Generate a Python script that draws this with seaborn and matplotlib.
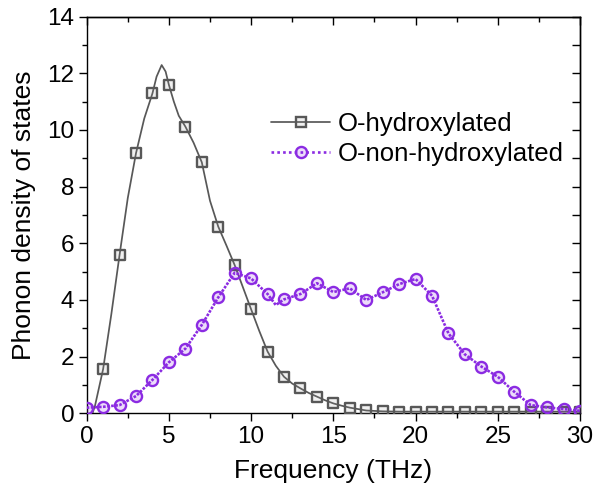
import numpy as np
import pandas as pd
import matplotlib
matplotlib.use("Agg")
import matplotlib.pyplot as plt
from matplotlib.ticker import MultipleLocator, NullFormatter
from matplotlib.lines import Line2D
import seaborn as sns

# ---------------- data ----------------
hyd_freq = list(range(1, 31))
hyd_dos = [1.56, 5.59, 9.18, 11.29, 11.59, 10.12, 8.86, 6.59, 5.23, 3.67,
           2.18, 1.29, 0.88, 0.59, 0.35, 0.20, 0.10, 0.07, 0.06, 0.06,
           0.06, 0.06, 0.06, 0.06, 0.06, 0.06, 0.06, 0.06, 0.06, 0.06]

# finer readings of the grey curve between its markers
hyd_line_freq = [0.35, 0.5, 1, 1.5, 2, 2.5, 3, 3.5, 4, 4.25, 4.56, 4.8, 5, 5.3,
                 5.6, 6, 6.5, 7, 7.5, 8, 8.5, 9, 9.5, 10, 10.5, 11, 11.5, 12,
                 12.5, 13, 13.5, 14, 14.5, 15, 15.5, 16, 17, 18, 19, 20, 21,
                 22, 23, 24, 25, 26, 27, 28, 29, 30]
hyd_line_dos = [0.0, 0.25, 1.56, 3.5, 5.59, 7.6, 9.18, 10.4, 11.29, 11.88, 12.29,
                12.06, 11.59, 11.0, 10.5, 10.12, 9.55, 8.86, 7.5, 6.59, 5.92,
                5.23, 4.45, 3.67, 2.9, 2.18, 1.68, 1.29, 1.05, 0.88, 0.72, 0.59,
                0.46, 0.35, 0.27, 0.20, 0.10, 0.07, 0.06, 0.06, 0.06, 0.06,
                0.06, 0.06, 0.06, 0.06, 0.06, 0.06, 0.06, 0.06]

non_freq = list(range(0, 31))
non_dos = [0.20, 0.23, 0.29, 0.61, 1.18, 1.80, 2.28, 3.12, 4.09, 4.96, 4.76,
           4.21, 4.02, 4.21, 4.59, 4.28, 4.41, 4.00, 4.27, 4.56, 4.74, 4.15,
           2.82, 2.08, 1.65, 1.29, 0.76, 0.29, 0.21, 0.15, 0.09]

non_line_freq = [0, 1, 2, 3, 4, 5, 6, 7, 8, 9, 10, 11, 11.5, 12, 13, 14, 15, 16,
                 17, 18, 19, 20, 21, 22, 23, 24, 25, 26, 27, 28, 29, 30]
non_line_dos = [0.20, 0.23, 0.29, 0.61, 1.18, 1.80, 2.28, 3.12, 4.09, 4.96, 4.76,
                4.21, 3.82, 4.02, 4.21, 4.59, 4.28, 4.41, 4.00, 4.27, 4.56,
                4.74, 4.15, 2.82, 2.08, 1.65, 1.29, 0.76, 0.29, 0.21, 0.15, 0.09]

series_names = ["O-hydroxylated", "O-non-hydroxylated"]
x_label = "Frequency (THz)"
y_label = "Phonon density of states"

# ---------------- style ----------------
sns.set_style("ticks")
plt.rcParams["font.family"] = ["Liberation Sans", "DejaVu Sans"]
plt.rcParams["axes.linewidth"] = 1.0
for k in ["text.color", "axes.labelcolor", "xtick.color", "ytick.color",
          "axes.edgecolor"]:
    plt.rcParams[k] = "black"

GREY = "#585858"
PURPLE = "#8b2be2"
GREY_FACE = (0.6, 0.6, 0.6, 0.14)
PURPLE_FACE = (0.55, 0.17, 0.89, 0.16)

fig = plt.figure(figsize=(6.04, 4.95), dpi=100)
ax = fig.add_axes([0.1435, 0.165, 0.8168, 0.8015])

df_hl = pd.DataFrame({"f": hyd_line_freq, "d": hyd_line_dos})
df_hm = pd.DataFrame({"f": hyd_freq, "d": hyd_dos})
df_nl = pd.DataFrame({"f": non_line_freq, "d": non_line_dos})
df_nm = pd.DataFrame({"f": non_freq, "d": non_dos})

sns.lineplot(data=df_hl, x="f", y="d", ax=ax, color=GREY, lw=1.25,
             estimator=None, legend=False, zorder=2)
sns.scatterplot(data=df_hm, x="f", y="d", ax=ax, marker="s", s=48,
                facecolor=GREY_FACE, edgecolor=GREY,
                linewidth=1.7, legend=False, zorder=3)
sns.lineplot(data=df_nl, x="f", y="d", ax=ax, color=PURPLE, lw=1.9,
             estimator=None, legend=False, zorder=4)
ax.lines[-1].set_linestyle((0, (1, 0.55)))
sns.scatterplot(data=df_nm, x="f", y="d", ax=ax, marker="o", s=64,
                facecolor=PURPLE_FACE, edgecolor=PURPLE,
                linewidth=1.7, legend=False, zorder=5)

ax.set_xlim(0, 30)
ax.set_ylim(0, 14)
ax.set_xlabel(x_label, fontsize=19, labelpad=8)
ax.set_ylabel(y_label, fontsize=19, labelpad=8)

ax.xaxis.set_major_locator(MultipleLocator(5))
ax.xaxis.set_minor_locator(MultipleLocator(2.5))
ax.yaxis.set_major_locator(MultipleLocator(2))
ax.yaxis.set_minor_locator(MultipleLocator(1))
ax.tick_params(which="major", direction="out", length=6, width=1.0,
               labelsize=17.5, pad=3, colors="black")
ax.tick_params(which="minor", direction="out", length=3.5, width=1.0)
for s in ax.spines.values():
    s.set_visible(True)
    s.set_color("black")
    s.set_linewidth(1.0)

top = ax.secondary_xaxis("top")
top.xaxis.set_major_locator(MultipleLocator(5))
top.xaxis.set_minor_locator(MultipleLocator(2.5))
top.tick_params(which="major", direction="in", length=6, width=1.0, labeltop=False)
top.tick_params(which="minor", direction="in", length=3.5, width=1.0)
top.xaxis.set_major_formatter(NullFormatter())

right = ax.secondary_yaxis("right")
right.yaxis.set_major_locator(MultipleLocator(1))
right.tick_params(which="major", direction="in", length=6, width=1.0, labelright=False)
right.yaxis.set_major_formatter(NullFormatter())

handles = [
    Line2D([0], [0], color=GREY, lw=1.25, marker="s", markersize=7,
           markerfacecolor=GREY_FACE, markeredgecolor=GREY,
           markeredgewidth=1.7),
    Line2D([0], [0], color=PURPLE, lw=1.9, linestyle=(0, (1, 1.2)), marker="o",
           markersize=8, markerfacecolor=PURPLE_FACE,
           markeredgecolor=PURPLE, markeredgewidth=1.7),
]
fig.legend(handles, series_names, loc="upper left",
           bbox_to_anchor=(0.4487, 0.774), frameon=False, fontsize=18.5,
           borderpad=0, handlelength=2.3, handletextpad=0.3, labelspacing=0.25,
           borderaxespad=0, labelcolor="black")

fig.savefig("out.png", dpi=100)
